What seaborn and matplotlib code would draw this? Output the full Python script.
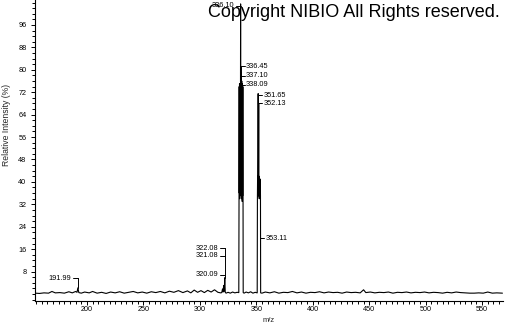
import matplotlib
matplotlib.use("Agg")
import matplotlib.pyplot as plt
import pandas as pd
import seaborn as sns
from matplotlib.ticker import MultipleLocator

# ---------------- data ----------------
base_left_mz = [154, 158, 162, 166, 169, 172, 176, 180, 184, 187,
                190, 191.2, 192.0, 192.8, 195, 198, 202, 205, 209, 213,
                217, 221, 225, 229, 233, 237, 241, 245, 249, 253,
                257, 261, 265, 269, 273, 277, 281, 285, 289, 292,
                295, 298, 301, 304, 307, 310, 313, 316, 318.5]
base_left_int = [0.3, 0.2, 0.4, 0.3, 0.9, 0.4, 0.5, 0.3, 0.8, 0.4,
                 0.9, 0.6, 2.2, 0.5, 0.3, 0.7, 0.4, 0.9, 0.3, 0.6,
                 0.2, 0.7, 0.4, 0.8, 0.3, 0.6, 0.9, 0.4, 0.7, 0.3,
                 0.8, 0.5, 0.9, 0.4, 1.0, 0.6, 1.2, 0.5, 1.1, 0.4,
                 1.4, 0.6, 1.2, 0.5, 1.3, 0.7, 1.5, 0.6, 0.4]

grp320_mz = [319.4, 320.09, 320.6, 321.08, 321.6, 322.08, 322.5, 323.2]
grp320_int = [0.5, 1.8, 0.7, 3.0, 1.0, 5.8, 0.6, 0.3]

mid1_mz = [325, 327, 329, 331, 333, 334.2]
mid1_int = [0.6, 0.3, 0.7, 0.4, 0.6, 0.5]

grp336_mz = [334.5, 334.7, 334.85, 335.0, 335.15, 335.3, 335.45, 335.6, 335.75, 335.9,
             336.10, 336.25, 336.45, 336.6, 336.75, 336.9, 337.10, 337.25, 337.4, 337.55,
             337.7, 337.85, 338.09, 338.25, 338.4]
grp336_int = [0.5, 33, 74, 36, 75, 34, 73, 37, 75, 40,
              103.5, 38, 79, 35, 74, 34, 76, 36, 74, 33,
              75, 35, 74, 33, 0.5]

mid2_mz = [339.2, 341, 343, 345, 347, 349, 350.5]
mid2_int = [0.3, 0.7, 0.4, 0.8, 0.3, 0.6, 0.4]

grp352_mz = [350.8, 351.0, 351.15, 351.3, 351.45, 351.65, 351.8, 351.95, 352.13, 352.3,
             352.45, 352.6, 352.75, 352.9, 353.11, 353.3, 353.5, 353.7, 353.85]
grp352_int = [0.4, 35, 42, 35, 41, 71.5, 36, 42, 68, 35,
              42, 34, 41, 35, 40, 34, 41, 35, 0.4]

base_right_mz = [355, 358, 362, 366, 370, 374, 378, 382, 386, 390,
                 394, 398, 402, 406, 410, 414, 418, 422, 426, 430,
                 434, 438, 442, 445, 447, 451, 455, 459, 463, 467,
                 471, 475, 479, 483, 487, 491, 495, 499, 503, 507,
                 511, 515, 519, 523, 527, 531, 535, 539, 543, 547,
                 551, 555, 559, 563, 568]
base_right_int = [0.3, 0.7, 0.4, 0.8, 0.3, 0.6, 0.5, 0.9, 0.4, 0.7,
                  0.3, 0.6, 0.5, 0.8, 0.4, 0.7, 0.5, 0.6, 0.3, 0.7,
                  0.5, 0.6, 0.4, 1.5, 0.5, 0.7, 0.4, 0.6, 0.5, 0.7,
                  0.3, 0.6, 0.5, 0.7, 0.4, 0.6, 0.5, 0.7, 0.4, 0.6,
                  0.5, 0.3, 0.6, 0.4, 0.7, 0.5, 0.4, 0.3, 0.3, 0.4,
                  0.3, 0.7, 0.3, 0.4, 0.3]

x_ticks = [200, 250, 300, 350, 400, 450, 500, 550]
y_ticks = [8, 16, 24, 32, 40, 48, 56, 64, 72, 80, 88, 96]

# peak labels: text, bracket x (m/z), label height
labels_left = [("191.99", 192.0, 5.6), ("322.08", 322.3, 16.4),
               ("321.08", 322.3, 13.6), ("320.09", 322.3, 6.8),
               ("336.10", 336.1, 102.8)]
labels_right = [("336.45", 336.4, 81.2), ("337.10", 336.4, 77.8),
                ("338.09", 336.4, 74.6), ("351.65", 351.9, 71.0),
                ("352.13", 351.9, 68.1), ("353.11", 353.7, 19.9)]
# vertical connector lines: x, y from, y to
connectors = [(192.0, 2.2, 5.6), (322.3, 5.8, 16.4),
              (336.4, 74.6, 81.2), (351.9, 68.1, 71.0)]

copyright_text = "Copyright NIBIO All Rights reserved."

# ---------------- build frame ----------------
mz = (base_left_mz + grp320_mz + mid1_mz + grp336_mz + mid2_mz
      + grp352_mz + base_right_mz)
inten = (base_left_int + grp320_int + mid1_int + grp336_int + mid2_int
         + grp352_int + base_right_int)
df = pd.DataFrame({"mz": mz, "intensity": inten})

# ---------------- plot ----------------
sns.set_style("ticks")
plt.rcParams["font.family"] = ["Liberation Sans", "DejaVu Sans"]

fig = plt.figure(figsize=(5.05, 3.25), dpi=100)
ax = fig.add_axes([35 / 505, 24 / 325, 468 / 505, 301 / 325])

sns.lineplot(data=df, x="mz", y="intensity", estimator=None, sort=False,
             color="black", linewidth=0.8, ax=ax)

ax.set_xlim(154, 568.5)
ax.set_ylim(-2.5, 104.9)
ax.set_xticks(x_ticks)
ax.set_yticks(y_ticks)
ax.xaxis.set_minor_locator(MultipleLocator(5))
ax.yaxis.set_minor_locator(MultipleLocator(2))
ax.tick_params(axis="both", which="both", direction="out", color="black",
               width=0.7, labelsize=5.2, labelcolor="black")
ax.tick_params(axis="both", which="major", length=2.6)
ax.tick_params(axis="both", which="minor", length=2.2)
ax.tick_params(axis="x", which="major", pad=1.0)
ax.tick_params(axis="y", which="major", pad=3.6)

for side in ["top", "right"]:
    ax.spines[side].set_visible(False)
for side in ["left", "bottom"]:
    ax.spines[side].set_color("black")
    ax.spines[side].set_linewidth(0.8)

ax.set_xlabel("m/z", fontsize=5.5, labelpad=3)
ax.set_ylabel("Relative Intensity (%)", fontsize=6.2)
ax.yaxis.set_label_coords(-0.052, 0.585)

lw = 0.7
dash_l, gap_l = 4.5, 1.2
dash_r, gap_r = 3.2, 1.2
for x0, y0, y1 in connectors:
    ax.plot([x0, x0], [y0, y1], color="black", linewidth=lw)
for txt, bx, ly in labels_left:
    ax.plot([bx - dash_l, bx], [ly, ly], color="black", linewidth=lw)
    ax.text(bx - dash_l - gap_l, ly, txt, ha="right", va="center",
            fontsize=5.3, color="black")
for txt, bx, ly in labels_right:
    ax.plot([bx, bx + dash_r], [ly, ly], color="black", linewidth=lw)
    ax.text(bx + dash_r + gap_r, ly, txt, ha="left", va="center",
            fontsize=5.3, color="black")

fig.text(208 / 505, 1 - 17 / 325, copyright_text, ha="left", va="baseline",
         fontsize=13, color="black")

fig.savefig("out.png", dpi=100, facecolor="white")
